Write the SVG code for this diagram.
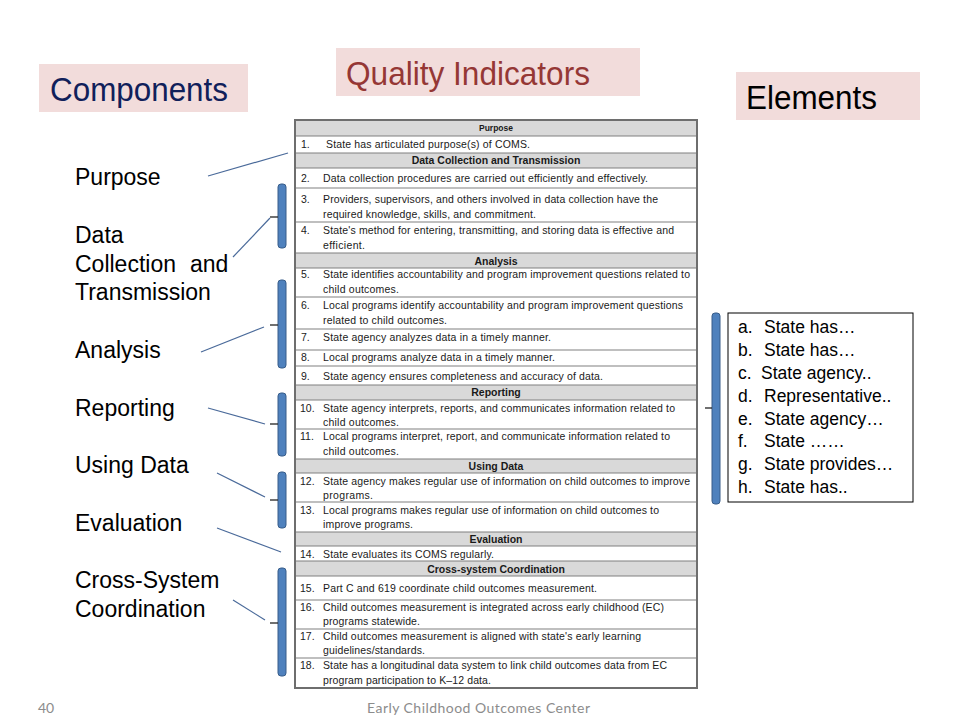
<svg xmlns="http://www.w3.org/2000/svg" width="960" height="720" viewBox="0 0 960 720">
<style>
.hbox{fill:#f2dcdb}
.lbl{font-family:"Liberation Sans",Arial,sans-serif;font-size:23px;fill:#000}
.cell{font-family:"Liberation Sans",Arial,sans-serif;font-size:10.5px;fill:#1a1a1a}
.hd{font-family:"Liberation Sans",Arial,sans-serif;font-size:10.5px;font-weight:bold;fill:#1a1a1a;text-anchor:middle}
.hrow{fill:#d9d9d9}
.sep{stroke:#808080;stroke-width:1.2}
.conn{stroke:#4a6a9a;stroke-width:1.2;fill:none}
.br{fill:#4f81bd;stroke:#385d8a;stroke-width:1}
.tick{stroke:#222;stroke-width:1.3}
.el{font-family:"Liberation Sans",Arial,sans-serif;font-size:17.5px;fill:#000}
.foot{font-family:Lato,"Open Sans",sans-serif;font-size:14px;fill:#8c8c8c}
</style>

<g id="title-components">
<rect class="hbox" x="39" y="64" width="209" height="48"/>
<text x="50" y="101" font-family="Liberation Sans,Arial,sans-serif" font-size="33" fill="#10205a" textLength="178" lengthAdjust="spacingAndGlyphs">Components</text>
</g>
<g id="title-quality">
<rect class="hbox" x="336" y="48" width="304" height="48"/>
<text x="346" y="85" font-family="Liberation Sans,Arial,sans-serif" font-size="33" fill="#953735" textLength="244" lengthAdjust="spacingAndGlyphs">Quality Indicators</text>
</g>
<g id="title-elements">
<rect class="hbox" x="736" y="72" width="184" height="48"/>
<text x="746" y="109" font-family="Liberation Sans,Arial,sans-serif" font-size="33" fill="#000" textLength="131" lengthAdjust="spacingAndGlyphs">Elements</text>
</g>

<g id="components-list">
<text class="lbl" x="75" y="185">Purpose</text>
<text class="lbl" x="75" y="243">Data</text>
<text class="lbl" x="75" y="272">Collection<tspan x="190">and</tspan></text>
<text class="lbl" x="75" y="300">Transmission</text>
<text class="lbl" x="75" y="358">Analysis</text>
<text class="lbl" x="75" y="416">Reporting</text>
<text class="lbl" x="75" y="473">Using Data</text>
<text class="lbl" x="75" y="531">Evaluation</text>
<text class="lbl" x="75" y="588">Cross-System</text>
<text class="lbl" x="75" y="617">Coordination</text>
</g>

<g id="quality-table">
<rect x="295" y="120" width="402" height="568" fill="#fff"/>
<rect class="hrow" x="295" y="120" width="402" height="16"/>
<rect class="hrow" x="295" y="153" width="402" height="15"/>
<rect class="hrow" x="295" y="253" width="402" height="15"/>
<rect class="hrow" x="295" y="385" width="402" height="15"/>
<rect class="hrow" x="295" y="459" width="402" height="14"/>
<rect class="hrow" x="295" y="532" width="402" height="14"/>
<rect class="hrow" x="295" y="561" width="402" height="15"/>
<g class="sep">
<line x1="295" y1="136" x2="697" y2="136"/>
<line x1="295" y1="153" x2="697" y2="153"/>
<line x1="295" y1="168" x2="697" y2="168"/>
<line x1="295" y1="188" x2="697" y2="188"/>
<line x1="295" y1="222" x2="697" y2="222"/>
<line x1="295" y1="253" x2="697" y2="253"/>
<line x1="295" y1="268" x2="697" y2="268"/>
<line x1="295" y1="297" x2="697" y2="297"/>
<line x1="295" y1="329" x2="697" y2="329"/>
<line x1="295" y1="350" x2="697" y2="350"/>
<line x1="295" y1="366" x2="697" y2="366"/>
<line x1="295" y1="385" x2="697" y2="385"/>
<line x1="295" y1="400" x2="697" y2="400"/>
<line x1="295" y1="429" x2="697" y2="429"/>
<line x1="295" y1="459" x2="697" y2="459"/>
<line x1="295" y1="473" x2="697" y2="473"/>
<line x1="295" y1="502" x2="697" y2="502"/>
<line x1="295" y1="532" x2="697" y2="532"/>
<line x1="295" y1="546" x2="697" y2="546"/>
<line x1="295" y1="561" x2="697" y2="561"/>
<line x1="295" y1="576" x2="697" y2="576"/>
<line x1="295" y1="600" x2="697" y2="600"/>
<line x1="295" y1="629" x2="697" y2="629"/>
<line x1="295" y1="658" x2="697" y2="658"/>
</g>
<rect x="295" y="120" width="402" height="568" fill="none" stroke="#6e6e6e" stroke-width="2"/>

<text class="hd" x="496" y="131" style="font-size:8.5px">Purpose</text>
<text class="hd" x="496" y="164">Data Collection and Transmission</text>
<text class="hd" x="496" y="264.5">Analysis</text>
<text class="hd" x="496" y="396">Reporting</text>
<text class="hd" x="496" y="469.5">Using Data</text>
<text class="hd" x="496" y="542.5">Evaluation</text>
<text class="hd" x="496" y="572.5">Cross-system Coordination</text>

<text class="cell" x="301" y="147.5">1.</text>
<text class="cell" x="326" y="147.5" textLength="204">State has articulated purpose(s) of COMS.</text>
<text class="cell" x="301" y="182">2.</text>
<text class="cell" x="323" y="182" textLength="325">Data collection procedures are carried out efficiently and effectively.</text>
<text class="cell" x="301" y="203">3.</text>
<text class="cell" x="323" y="203" textLength="335">Providers, supervisors, and others involved in data collection have the</text>
<text class="cell" x="323" y="217.5" textLength="213">required knowledge, skills, and commitment.</text>
<text class="cell" x="301" y="234">4.</text>
<text class="cell" x="323" y="234" textLength="351">State's method for entering, transmitting, and storing data is effective and</text>
<text class="cell" x="323" y="248.5" textLength="42">efficient.</text>
<text class="cell" x="301" y="278">5.</text>
<text class="cell" x="323" y="278" textLength="367">State identifies accountability and program improvement questions related to</text>
<text class="cell" x="323" y="292.5" textLength="76">child outcomes.</text>
<text class="cell" x="301" y="308.5">6.</text>
<text class="cell" x="323" y="308.5" textLength="360">Local programs identify accountability and program improvement questions</text>
<text class="cell" x="323" y="323.5" textLength="124">related to child outcomes.</text>
<text class="cell" x="301" y="341">7.</text>
<text class="cell" x="323" y="341" textLength="228">State agency analyzes data in a timely manner.</text>
<text class="cell" x="301" y="361">8.</text>
<text class="cell" x="323" y="361" textLength="232">Local programs analyze data in a timely manner.</text>
<text class="cell" x="301" y="379.5">9.</text>
<text class="cell" x="323" y="379.5" textLength="280">State agency ensures completeness and accuracy of data.</text>
<text class="cell" x="300" y="411.5">10.</text>
<text class="cell" x="323" y="411.5" textLength="352">State agency interprets, reports, and communicates information related to</text>
<text class="cell" x="323" y="426" textLength="76">child outcomes.</text>
<text class="cell" x="300" y="440">11.</text>
<text class="cell" x="323" y="440" textLength="347">Local programs interpret, report, and communicate information related to</text>
<text class="cell" x="323" y="455" textLength="76">child outcomes.</text>
<text class="cell" x="300" y="484.5">12.</text>
<text class="cell" x="323" y="484.5" textLength="367">State agency makes regular use of information on child outcomes to improve</text>
<text class="cell" x="323" y="498.5" textLength="50">programs.</text>
<text class="cell" x="300" y="513.5">13.</text>
<text class="cell" x="323" y="513.5" textLength="336">Local programs makes regular use of information on child outcomes to</text>
<text class="cell" x="323" y="527.5" textLength="90">improve programs.</text>
<text class="cell" x="300" y="557.5">14.</text>
<text class="cell" x="323" y="557.5" textLength="171">State evaluates its COMS regularly.</text>
<text class="cell" x="300" y="591.5">15.</text>
<text class="cell" x="323" y="591.5" textLength="274">Part C and 619 coordinate child outcomes measurement.</text>
<text class="cell" x="300" y="610.5">16.</text>
<text class="cell" x="323" y="610.5" textLength="341">Child outcomes measurement is integrated across early childhood (EC)</text>
<text class="cell" x="323" y="624.5" textLength="97">programs statewide.</text>
<text class="cell" x="300" y="639.5">17.</text>
<text class="cell" x="323" y="639.5" textLength="318">Child outcomes measurement is aligned with state's early learning</text>
<text class="cell" x="323" y="654" textLength="102">guidelines/standards.</text>
<text class="cell" x="300" y="668.5">18.</text>
<text class="cell" x="323" y="668.5" textLength="344">State has a longitudinal data system to link child outcomes data from EC</text>
<text class="cell" x="323" y="684" textLength="168">program participation to K–12 data.</text>
</g>

<g id="brackets">
<rect class="br" x="278" y="184" width="8" height="64" rx="3"/>
<line class="tick" x1="270" y1="217" x2="278" y2="217"/>
<rect class="br" x="278" y="280" width="8" height="88" rx="3"/>
<line class="tick" x1="270" y1="325" x2="278" y2="325"/>
<rect class="br" x="278" y="393" width="8" height="63" rx="3"/>
<line class="tick" x1="270" y1="424" x2="278" y2="424"/>
<rect class="br" x="278" y="472" width="8" height="56" rx="3"/>
<line class="tick" x1="270" y1="500" x2="278" y2="500"/>
<rect class="br" x="278" y="568" width="8" height="108" rx="3"/>
<line class="tick" x1="270" y1="623" x2="278" y2="623"/>
<rect class="br" x="712" y="313" width="8" height="191" rx="3"/>
<line class="tick" x1="705" y1="408" x2="712" y2="408"/>
</g>

<g id="connectors">
<line class="conn" x1="208" y1="176" x2="288" y2="153"/>
<line class="conn" x1="233" y1="257" x2="270" y2="218"/>
<line class="conn" x1="201" y1="352" x2="264" y2="327"/>
<line class="conn" x1="208" y1="408" x2="265" y2="424"/>
<line class="conn" x1="217" y1="473" x2="265" y2="497"/>
<line class="conn" x1="217" y1="528" x2="281" y2="552"/>
<line class="conn" x1="233" y1="600" x2="265" y2="620"/>
</g>

<g id="elements-box">
<rect x="728" y="313" width="185" height="189" fill="#fff" stroke="#000" stroke-width="1"/>
<text class="el" x="738" y="333">a.<tspan x="764">State has…</tspan></text>
<text class="el" x="738" y="356">b.<tspan x="764">State has…</tspan></text>
<text class="el" x="738" y="379">c.<tspan x="761">State agency..</tspan></text>
<text class="el" x="738" y="402">d.<tspan x="764">Representative..</tspan></text>
<text class="el" x="738" y="425">e.<tspan x="764">State agency…</tspan></text>
<text class="el" x="738" y="447">f.<tspan x="764">State ……</tspan></text>
<text class="el" x="738" y="470">g.<tspan x="764">State provides…</tspan></text>
<text class="el" x="738" y="493">h.<tspan x="764">State has..</tspan></text>
</g>

<g id="footer">
<text class="foot" x="38" y="713">40</text>
<text class="foot" x="367" y="713" textLength="223">Early Childhood Outcomes Center</text>
</g>
</svg>
